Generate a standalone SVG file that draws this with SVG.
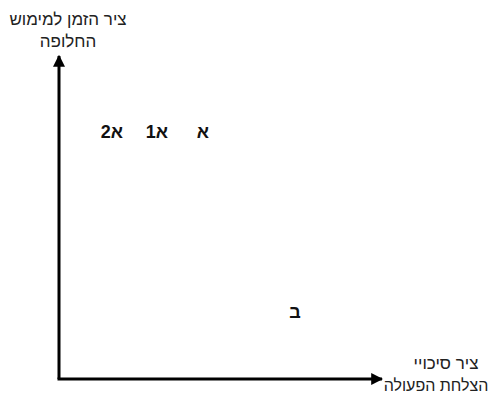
<svg xmlns="http://www.w3.org/2000/svg" width="493" height="395" viewBox="0 0 493 395">
<defs>
<style>
.lbl{font-family:"Liberation Sans","DejaVu Sans",sans-serif;font-size:17px;fill:#222;text-anchor:middle}
.pt{font-family:"Liberation Sans","DejaVu Sans",sans-serif;font-size:18px;font-weight:bold;fill:#111;text-anchor:middle}
.ax{stroke:#000;stroke-width:3;fill:none}
</style>
<marker id="ah" viewBox="0 0 10 10" refX="9" refY="5" markerWidth="4" markerHeight="4" orient="auto" markerUnits="strokeWidth">
<path d="M0,0 L10,5 L0,10 Z" fill="#000"/>
</marker>
</defs>
<rect width="493" height="395" fill="#fff"/>
<g id="connectors">
<path class="ax" d="M59,379 L59,56" marker-end="url(#ah)"/>
<path class="ax" d="M57.5,379 L382,379" marker-end="url(#ah)"/>
</g>
<g id="y-axis-label">
<text class="lbl" x="68" y="25">ציר הזמן למימוש</text>
<text class="lbl" x="68" y="47">החלופה</text>
</g>
<g id="x-axis-label">
<text class="lbl" x="446" y="369">ציר סיכויי</text>
<text class="lbl" x="436" y="391" style="font-size:16px">הצלחת הפעולה</text>
</g>
<g id="point-a2"><text class="pt" x="112" y="138">א2</text></g>
<g id="point-a1"><text class="pt" x="157" y="138">א1</text></g>
<g id="point-a"><text class="pt" x="203" y="138">א</text></g>
<g id="point-b"><text class="pt" x="295" y="318">ב</text></g>
</svg>
